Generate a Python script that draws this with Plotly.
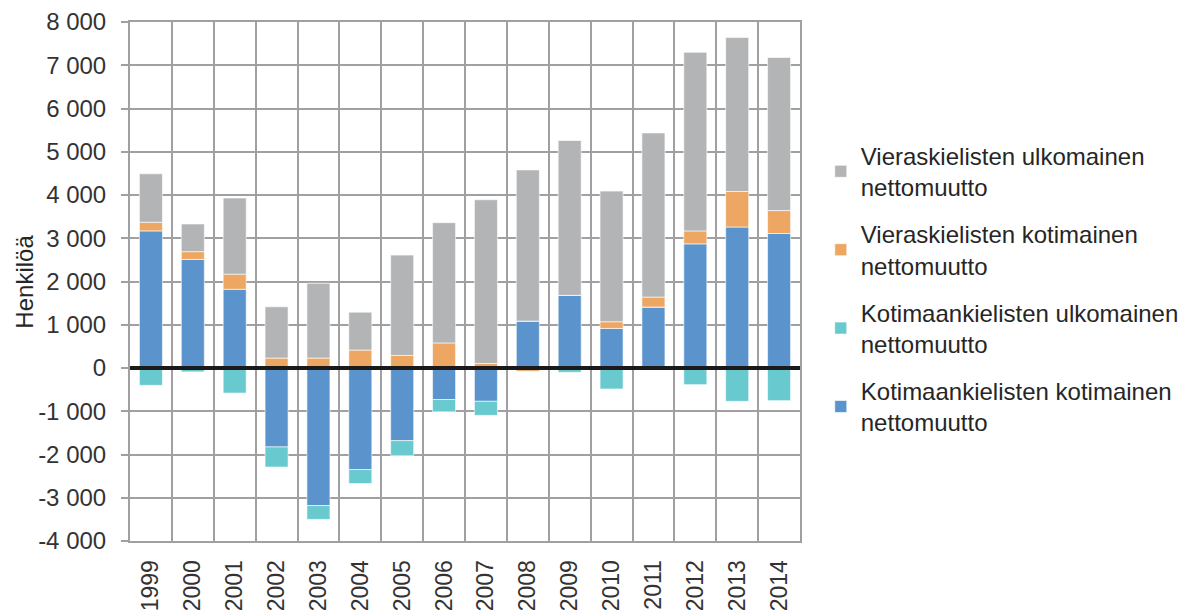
import plotly.graph_objects as go

years = [str(y) for y in range(1999, 2015)]

# Kotimaankielisten kotimainen nettomuutto (blue)
koti_koti = [3170, 2510, 1820, -1825, -3180, -2350, -1680, -730, -770, 1085, 1680, 915, 1410, 2870, 3260, 3110]
# Kotimaankielisten ulkomainen nettomuutto (cyan)
koti_ulko = [-400, -90, -580, -465, -320, -320, -345, -280, -325, 0, -100, -485, 0, -385, -770, -755]
# Vieraskielisten kotimainen nettomuutto (orange)
vieras_koti = [200, 180, 350, 230, 230, 415, 290, 580, 105, -75, 0, 155, 230, 300, 820, 530]
# Vieraskielisten ulkomainen nettomuutto (gray)
vieras_ulko = [1120, 640, 1760, 1185, 1730, 875, 2320, 2780, 3785, 3495, 3580, 3020, 3795, 4130, 3560, 3540]

series_names = [
    "Kotimaankielisten kotimainen<br>nettomuutto",
    "Kotimaankielisten ulkomainen<br>nettomuutto",
    "Vieraskielisten kotimainen<br>nettomuutto",
    "Vieraskielisten ulkomainen<br>nettomuutto",
]
series_values = [koti_koti, koti_ulko, vieras_koti, vieras_ulko]
series_colors = ["#5B94CD", "#68C9CF", "#EDA763", "#B3B4B6"]
legend_ranks = [4, 3, 2, 1]

ytick_vals = list(range(-4000, 8001, 1000))
ytick_text = [f"{v:,}".replace(",", " ") for v in ytick_vals]

FONT = "Liberation Sans, Arial, sans-serif"

fig = go.Figure()
for i, (name, vals, col, rank) in enumerate(zip(series_names, series_values, series_colors, legend_ranks)):
    fig.add_trace(go.Bar(
        x=years, y=vals, name=name, legendgroup=f"g{i}", legendrank=rank,
        marker=dict(color=col, line=dict(color="rgba(255,255,255,0.6)", width=1)),
    ))

fig.update_layout(
    barmode="relative",
    bargap=0.45,
    width=1189, height=607,
    margin=dict(l=122, r=397, t=14, b=74, autoexpand=False),
    paper_bgcolor="white",
    plot_bgcolor="white",
    font=dict(family=FONT, size=23, color="#333333"),
    showlegend=True,
    legend=dict(
        x=1.031, y=0.785, xanchor="left", yanchor="top",
        traceorder="grouped",
        font=dict(family=FONT, size=24, color="#262626"),
        itemwidth=30,
        tracegroupgap=13,
        bgcolor="rgba(0,0,0,0)",
    ),
    xaxis=dict(
        type="category",
        automargin=False,
        tickson="boundaries",
        showgrid=True, gridcolor="#A0A0A2", gridwidth=2,
        showline=True, linecolor="#A0A0A2", linewidth=2, mirror=True,
        ticks="", tickangle=-90, ticklabelstandoff=8,
        tickfont=dict(family=FONT, size=23, color="#333333"),
    ),
    yaxis=dict(
        automargin=False,
        range=[-4000, 8000],
        tickvals=ytick_vals, ticktext=ytick_text,
        showgrid=True, gridcolor="#A0A0A2", gridwidth=2,
        showline=True, linecolor="#A0A0A2", linewidth=2, mirror=True,
        ticks="outside", ticklen=7, tickcolor="#A0A0A2", tickwidth=2,
        ticklabelstandoff=10,
        zeroline=False,
        tickfont=dict(family=FONT, size=24, color="#333333"),
    ),
    shapes=[dict(
        type="line", xref="paper", x0=0, x1=1, yref="y", y0=0, y1=0,
        line=dict(color="#1a1a1a", width=4), layer="above",
    )],
    annotations=[dict(
        text="Henkilöä", textangle=-90,
        xref="paper", x=-0.158, xanchor="center",
        yref="paper", y=0.5, yanchor="middle",
        showarrow=False,
        font=dict(family=FONT, size=24, color="#262626"),
    )],
)

fig.write_html("out.html")
